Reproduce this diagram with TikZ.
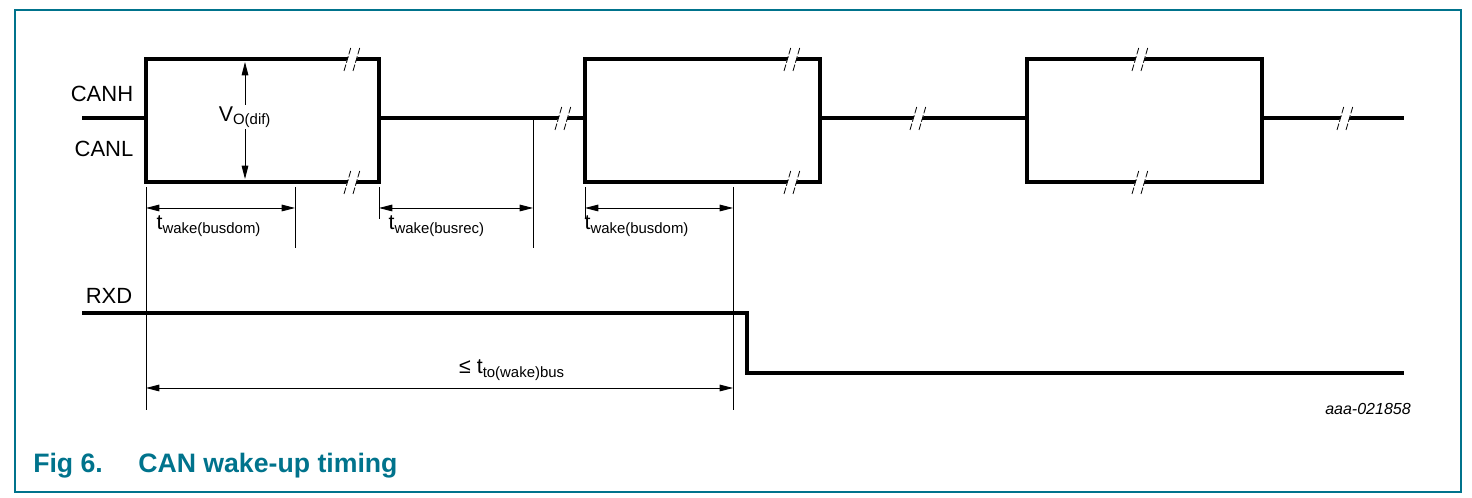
\documentclass[tikz,border=0pt]{standalone}
\usepackage{fontspec}
\setmainfont{Liberation Sans}
\usetikzlibrary{arrows.meta}
\definecolor{teal}{RGB}{0,115,140}
\begin{document}
\begin{tikzpicture}[x=0.75pt,y=-0.75pt,
  sig/.style={line width=2.4pt,line join=miter},
  thin/.style={line width=0.7pt},
  dim/.style={line width=0.7pt,{Triangle[length=10pt,width=5pt]}-{Triangle[length=10pt,width=5pt]}},
  lbl/.style={font=\fontsize{16.5}{18}\selectfont,inner sep=1pt},
  sub/.style={font=\fontsize{16}{18}\selectfont,inner sep=1pt}]
\useasboundingbox (0,0) rectangle (1472,498);
\draw[teal,line width=1pt] (15,10) rectangle (1461,492);
% CAN signal
\draw[sig] (82,118) -- (146,118) -- (146,59) -- (379,59) -- (379,182) -- (146,182) -- (146,118);
\draw[sig] (379,118) -- (585,118) -- (585,59) -- (820,59) -- (820,182) -- (585,182) -- (585,118);
\draw[sig] (820,118) -- (1027,118) -- (1027,59) -- (1262,59) -- (1262,182) -- (1027,182) -- (1027,118);
\draw[sig] (1262,118) -- (1404,118);
\foreach \x/\y in {352/59,352/182,563/118,792/59,792/182,918/118,1140/59,1140/182,1345/118}{
  \fill[white] (\x-6.6,\y+4) -- (\x-2.4,\y-4) -- (\x+6.6,\y-4) -- (\x+2.4,\y+4) -- cycle;
  \draw[line width=0.6pt,dash pattern=on 5pt off 1.5pt] (\x-8,\y+12) -- (\x-1,\y-12);
  \draw[line width=0.6pt,dash pattern=on 5pt off 1.5pt] (\x+1,\y+12) -- (\x+8,\y-12);}
\node[lbl] (canh) at (102,94) {CANH};
\node[lbl] (canl) at (104,149) {CANL};
% VO(dif)
\node[sub,fill=white] (vo) at (245,117) {V\textsubscript{O(dif)}};
\draw[thin,-{Triangle[length=10pt,width=5pt]}] (vo.north) -- (245,62);
\draw[thin,-{Triangle[length=10pt,width=5pt]}] (vo.south) -- (245,179);
% verticals
\draw[thin] (146,187) -- (146,410);
\draw[thin] (295,187) -- (295,248);
\draw[thin] (379,187) -- (379,219);
\draw[thin] (533,118) -- (533,248);
\draw[thin] (585,187) -- (585,219);
\draw[thin] (733,187) -- (733,410);
% dims
\draw[dim] (146,208) -- (295,208);
\draw[dim] (379,208) -- (533,208);
\draw[dim] (585,208) -- (733,208);
\node[sub,anchor=west] (t1) at (155,226) {t\textsubscript{wake(busdom)}};
\node[sub,anchor=west] (t2) at (387,226) {t\textsubscript{wake(busrec)}};
\node[sub,anchor=west] (t3) at (583,226) {t\textsubscript{wake(busdom)}};
% RXD
\node[lbl] (rxd) at (109,296) {RXD};
\draw[sig] (82,313) -- (747,313) -- (747,373) -- (1404,373);
\draw[dim] (146,388) -- (733,388);
\node[sub] (tto) at (512,370) {≤ t\textsubscript{to(wake)bus}};
\node[font=\itshape\fontsize{12}{14}\selectfont] (id) at (1368,409) {aaa-021858};
% caption
\node[anchor=west,text=teal,font=\bfseries\fontsize{20}{24}\selectfont,inner sep=0] (fig) at (33,466) {Fig 6.};
\node[anchor=west,text=teal,font=\bfseries\fontsize{20}{24}\selectfont,inner sep=0] (cap) at (138,466) {CAN wake-up timing};
\end{tikzpicture}
\end{document}
